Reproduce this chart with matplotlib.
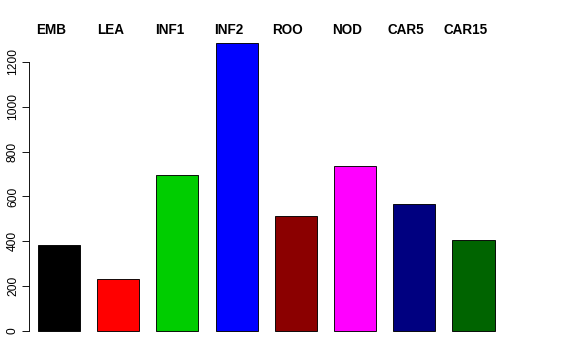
"""Bar chart of counts per sample group, R barplot look."""

import matplotlib

matplotlib.use("Agg")
import matplotlib.pyplot as plt
import matplotlib.transforms as mtransforms

plt.rcParams["font.family"] = ["Liberation Sans", "DejaVu Sans"]

groups = ["EMB", "LEA", "INF1", "INF2", "ROO", "NOD", "CAR5", "CAR15"]
counts = [385, 233, 696, 1286, 512, 736, 565, 404]
bar_colors = ["#000000", "#FF0000", "#00CD00", "#0000FF",
              "#8B0000", "#FF00FF", "#000080", "#006400"]
y_ticks = [0, 200, 400, 600, 800, 1000, 1200]

W, H = 576, 360
fig = plt.figure(figsize=(W / 72, H / 72), dpi=72)

# plot region in pixels (left, right, top, bottom)
left_px, right_px, top_px, bottom_px = 29, 512, 31, 342.5
ax = fig.add_axes([left_px / W, 1 - bottom_px / H,
                   (right_px - left_px) / W, (bottom_px - top_px) / H])

x = range(len(groups))
ax.bar(x, counts, width=0.71, color=bar_colors, edgecolor="black",
       linewidth=0.9, zorder=2)

ax.set_xlim(-0.507, 7.65)
ax.set_ylim(-51.3, 1338)

for side in ["top", "right", "bottom"]:
    ax.spines[side].set_visible(False)
ax.spines["left"].set_bounds(0, 1200)
ax.spines["left"].set_linewidth(0.9)
ax.set_xticks([])
ax.set_yticks(y_ticks)
ax.set_yticklabels([str(v) for v in y_ticks], rotation=90, va="center",
                   fontsize=12)
ax.tick_params(axis="y", length=7, width=0.9, pad=3)

# group names along the top, slightly left of each bar
trans = mtransforms.blended_transform_factory(ax.transData, fig.transFigure)
for i, name in enumerate(groups):
    ax.text(i - 0.135, 1 - 30.5 / H, name, transform=trans, ha="center",
            va="center", fontsize=13.5, fontweight="bold", clip_on=False)

fig.savefig("out.png", dpi=72)
